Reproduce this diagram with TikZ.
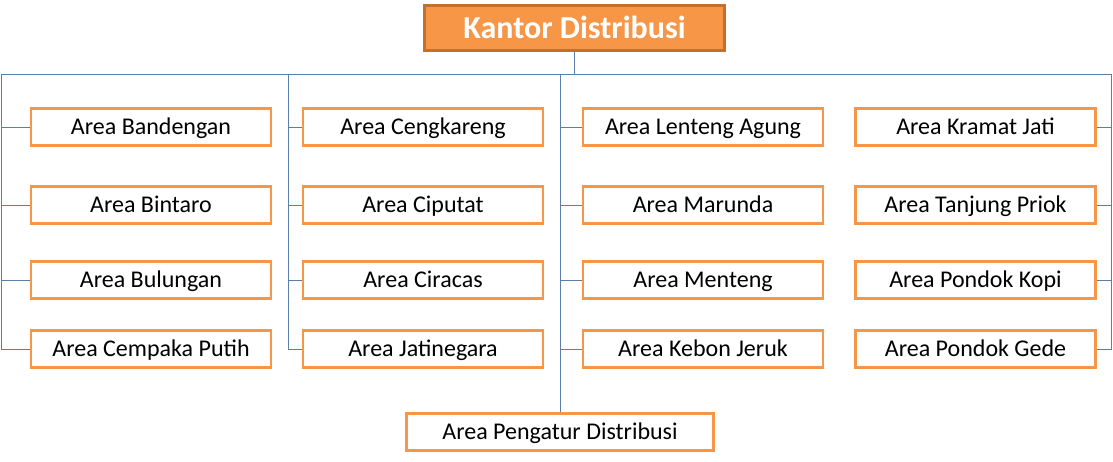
\documentclass[tikz,border=0pt]{standalone}
\usepackage{fontspec}
\setmainfont{Carlito}
\definecolor{boxorange}{HTML}{F79646}
\definecolor{darkorange}{HTML}{C46F2C}
\definecolor{linkblue}{HTML}{5A7FA8}
\begin{document}
\begin{tikzpicture}[x=1pt,y=-1pt,
  areabox/.style={draw=boxorange, line width=2.6pt, fill=white, minimum width=240pt, minimum height=37pt, inner sep=0pt, text height=18pt, text depth=4pt, font=\fontsize{24}{28}\selectfont},
  headbox/.style={draw=darkorange, line width=2.8pt, fill=boxorange, text=white, minimum width=300pt, minimum height=45pt, inner sep=0pt, text height=24pt, text depth=4pt, font=\fontsize{32}{36}\selectfont\bfseries},
  link/.style={draw=linkblue, line width=0.9pt}]
\useasboundingbox (0,0) rectangle (1113,461);
\node[headbox] (top) at (574.5,28) {Kantor Distribusi};
% columns
\node[areabox] (a1) at (151,127) {Area Bandengan};
\node[areabox] (a2) at (151,205) {Area Bintaro};
\node[areabox] (a3) at (151,280) {Area Bulungan};
\node[areabox] (a4) at (151,349) {Area Cempaka Putih};
\node[areabox] (b1) at (423,127) {Area Cengkareng};
\node[areabox] (b2) at (423,205) {Area Ciputat};
\node[areabox] (b3) at (423,280) {Area Ciracas};
\node[areabox] (b4) at (423,349) {Area Jatinegara};
\node[areabox] (c1) at (703,127) {Area Lenteng Agung};
\node[areabox] (c2) at (703,205) {Area Marunda};
\node[areabox] (c3) at (703,280) {Area Menteng};
\node[areabox] (c4) at (703,349) {Area Kebon Jeruk};
\node[areabox] (d1) at (975.5,127) {Area Kramat Jati};
\node[areabox] (d2) at (975.5,205) {Area Tanjung Priok};
\node[areabox] (d3) at (975.5,280) {Area Pondok Kopi};
\node[areabox] (d4) at (975.5,349) {Area Pondok Gede};
\node[areabox, minimum width=307pt] (bot) at (560,432) {Area Pengatur Distribusi};
% bus coordinates
\coordinate (busA) at (1,74);
\coordinate (busB) at (288,74);
\coordinate (busC) at (560,74);
\coordinate (busD) at (1111,74);
\draw[link] (top.south) -- (top.south |- busA);
\draw[link] (busA) -- (busD);
\draw[link] (busA) |- (a4.west);
\draw[link] (busB) |- (b4.west);
\draw[link] (busC) -- (bot.north);
\draw[link] (busD) |- (d4.east);
\foreach \n in {a1,a2,a3} \draw[link] (\n.west) -- (\n.west -| busA);
\foreach \n in {b1,b2,b3} \draw[link] (\n.west) -- (\n.west -| busB);
\foreach \n in {c1,c2,c3,c4} \draw[link] (\n.west) -- (\n.west -| busC);
\foreach \n in {d1,d2,d3} \draw[link] (\n.east) -- (\n.east -| busD);
\end{tikzpicture}
\end{document}
